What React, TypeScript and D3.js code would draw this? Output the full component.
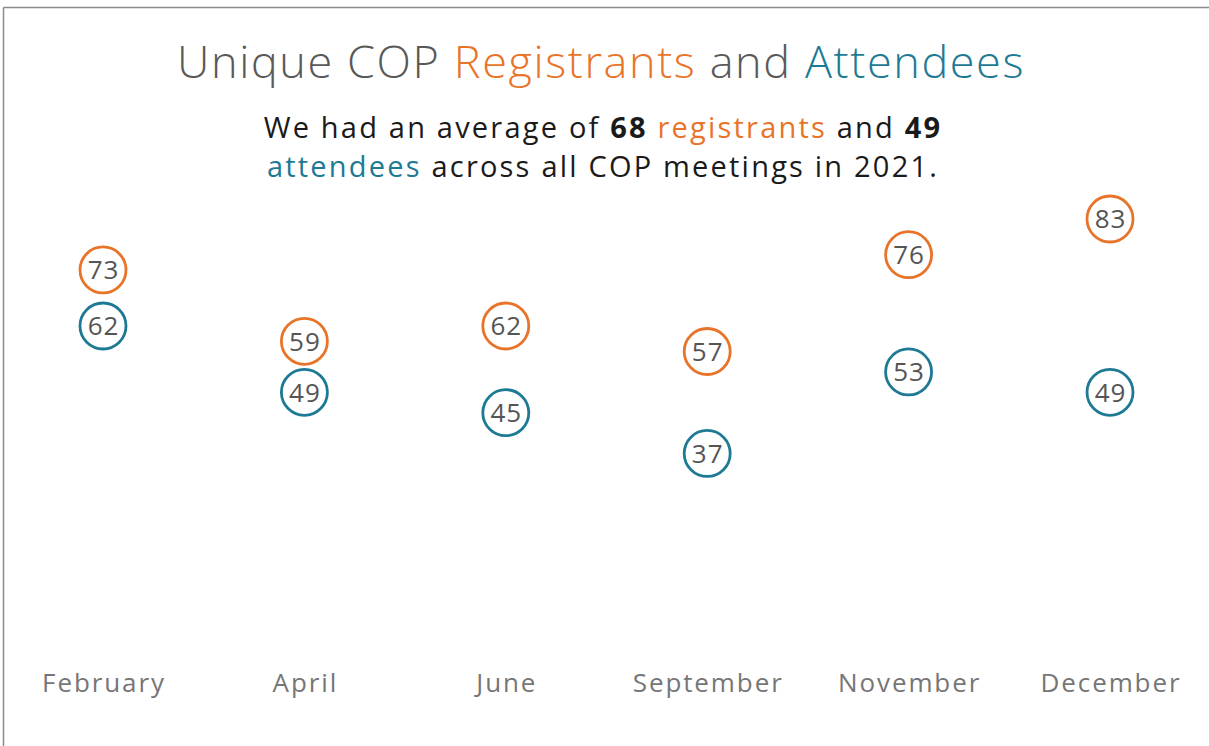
import React from 'react';
import * as d3 from 'd3';

const months = ['February', 'April', 'June', 'September', 'November', 'December'];
const registrants = [73, 59, 62, 57, 76, 83];
const attendees = [62, 49, 45, 37, 53, 49];

const ORANGE = '#E8742A';
const TEAL = '#1E7A94';
const FONT = '"Open Sans", "Noto Sans", sans-serif';

const App = () => {
  const width = 1209;
  const height = 746;

  const x = d3.scalePoint<string>().domain(months).range([103, 1110]);
  const maxVal = d3.max(registrants.concat(attendees)) as number;
  const y = d3.scaleLinear().domain([0, maxVal]).range([642, 219]);

  const series = [
    { key: 'reg', values: registrants, color: ORANGE },
    { key: 'att', values: attendees, color: TEAL },
  ];

  return (
    <svg
      width={width}
      height={height}
      style={{ position: 'absolute', left: 0, top: 0, background: '#fff' }}
      fontFamily={FONT}
    >
      {/* frame */}
      <line x1={3.5} x2={width} y1={7.5} y2={7.5} stroke="#8c8c8c" strokeWidth={1.5} />
      <line x1={3.5} x2={3.5} y1={7.5} y2={height} stroke="#8c8c8c" strokeWidth={1.5} />

      {/* title */}
      <text
        x={601}
        y={78}
        textAnchor="middle"
        fontSize={45}
        fill="#595959"
        fontWeight={300}
        letterSpacing={1.6}
      >
        Unique COP <tspan fill={ORANGE}>Registrants</tspan> and{' '}
        <tspan fill={TEAL}>Attendees</tspan>
      </text>

      {/* subtitle */}
      <g fontSize={29} fill="#1a1a1a" letterSpacing={2.2} textAnchor="middle">
        <text x={603} y={138}>
          We had an average of <tspan fontWeight={700}>68</tspan>{' '}
          <tspan fill={ORANGE}>registrants</tspan> and <tspan fontWeight={700}>49</tspan>
        </text>
        <text x={603} y={177}>
          <tspan fill={TEAL}>attendees</tspan> across all COP meetings in 2021.
        </text>
      </g>

      {/* points */}
      {series.map((s) => (
        <g key={s.key}>
          {s.values.map((v, i) => (
            <g key={i} transform={`translate(${x(months[i])},${y(v)})`}>
              <circle r={23} fill="#fff" stroke={s.color} strokeWidth={2.8} />
              <text
                textAnchor="middle"
                dx={0.5}
                dy="0.36em"
                fontSize={26}
                letterSpacing={1}
                fill="#555"
              >
                {v}
              </text>
            </g>
          ))}
        </g>
      ))}

      {/* month labels */}
      {months.map((m) => (
        <text
          key={m}
          x={(x(m) as number) + 1}
          y={692}
          textAnchor="middle"
          fontSize={26}
          letterSpacing={1.9}
          fill="#767676"
        >
          {m}
        </text>
      ))}
    </svg>
  );
};

export default App;
